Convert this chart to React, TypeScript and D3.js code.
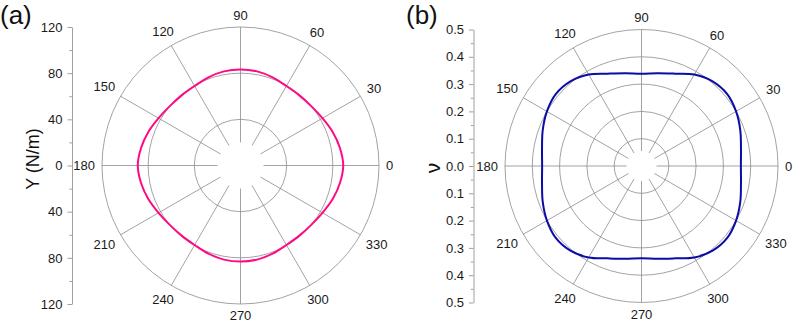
import React, { useEffect, useRef } from "react";
import * as d3 from "d3";

// direction angles (deg) and the two measured quantities
const dirAngles = [
  0, 10, 20, 30, 40, 50, 60, 70, 80, 90, 100, 110, 120, 130, 140, 150, 160, 170,
  180, 190, 200, 210, 220, 230, 240, 250, 260, 270, 280, 290, 300, 310, 320, 330, 340, 350,
];
const youngValues = [
  89, 87.5, 85, 82, 80, 79.3, 79.5, 81.3, 82.8, 83.2, 82.8, 81.3, 79.5, 79.3, 80, 82, 85, 87.5,
  89, 87.5, 85, 82, 80, 79.3, 79.5, 81.3, 82.8, 83.2, 82.8, 81.3, 79.5, 79.3, 80, 82, 85, 87.5,
];
const poissonValues = [
  0.364, 0.37, 0.385, 0.4, 0.41, 0.405, 0.387, 0.36, 0.345, 0.338, 0.345, 0.36, 0.387, 0.405, 0.41, 0.4, 0.385, 0.37,
  0.364, 0.37, 0.385, 0.4, 0.41, 0.405, 0.387, 0.36, 0.345, 0.338, 0.345, 0.36, 0.387, 0.405, 0.41, 0.4, 0.385, 0.37,
];

const spokeAngles = [0, 30, 60, 90, 120, 150, 180, 210, 240, 270, 300, 330];
const youngRings = [40, 80, 120];
const poissonRings = [0.1, 0.2, 0.3, 0.4, 0.5];
const youngAxisTicks = [-120, -80, -40, 0, 40, 80, 120];
const youngMinorTicks = [-100, -60, -20, 20, 60, 100];
const poissonAxisTicks = [-0.5, -0.4, -0.3, -0.2, -0.1, 0, 0.1, 0.2, 0.3, 0.4, 0.5];
const poissonMinorTicks = [-0.45, -0.35, -0.25, -0.15, -0.05, 0.05, 0.15, 0.25, 0.35, 0.45];

const FONT = "'Liberation Sans', Arial, sans-serif";

type Panel = {
  tag: string;
  title: string;
  cx: number;
  cy: number;
  R: number;
  max: number;
  inner: number;
  axisX: number;
  rings: number[];
  ticks: number[];
  minor: number[];
  fmt: (v: number) => string;
  values: number[];
  color: string;
  tagX: number;
  titleX: number;
  titleY: number;
  titleSize: number;
};

const panels: Panel[] = [
  {
    tag: "(a)", title: "Y (N/m)", cx: 240.5, cy: 165.5, R: 138.5, max: 120, inner: 20, axisX: 72,
    rings: youngRings, ticks: youngAxisTicks, minor: youngMinorTicks,
    fmt: (v) => d3.format("d")(Math.abs(v)), values: youngValues, color: "#ff0a84",
    tagX: 0, titleX: 38.5, titleY: 159, titleSize: 18,
  },
  {
    tag: "(b)", title: "ν", cx: 641.5, cy: 166, R: 136.5, max: 0.5, inner: 0.055, axisX: 473.5,
    rings: poissonRings, ticks: poissonAxisTicks, minor: poissonMinorTicks,
    fmt: (v) => d3.format(".1f")(Math.abs(v)), values: poissonValues, color: "#0b0ba5",
    tagX: 406, titleX: 440, titleY: 168, titleSize: 21,
  },
];

export default function App() {
  const ref = useRef<SVGSVGElement>(null);

  useEffect(() => {
    const svg = d3.select(ref.current);
    svg.selectAll("*").remove();

    panels.forEach((p) => {
      const r = d3.scaleLinear().domain([0, p.max]).range([0, p.R]);
      const y = d3.scaleLinear().domain([-p.max, p.max]).range([p.cy + p.R, p.cy - p.R]);
      const g = svg.append("g");

      // panel tag
      g.append("text")
        .attr("x", p.tagX).attr("y", 24)
        .attr("font-family", FONT).attr("font-size", 26).attr("fill", "#111")
        .text(p.tag);

      // left linear axis
      const minorAxis = g.append("g").attr("transform", `translate(${p.axisX},0)`)
        .call(d3.axisLeft(y).tickValues(p.minor).tickSize(2.7).tickSizeOuter(0).tickFormat(() => ""));
      minorAxis.select(".domain").remove();
      minorAxis.selectAll("line").attr("stroke", "#888").attr("stroke-width", 0.8);

      const axis = g.append("g").attr("transform", `translate(${p.axisX},0)`)
        .call(d3.axisLeft(y).tickValues(p.ticks).tickSize(4.5).tickSizeOuter(0).tickPadding(5).tickFormat((v) => p.fmt(+v)));
      axis.select(".domain").attr("stroke", "#888").attr("stroke-width", 0.8);
      axis.selectAll("line").attr("stroke", "#888").attr("stroke-width", 0.8);
      axis.selectAll("text").attr("font-family", FONT).attr("font-size", 13).attr("fill", "#1a1a1a");

      g.append("text")
        .attr("transform", `translate(${p.titleX},${p.titleY}) rotate(-90)`)
        .attr("text-anchor", "middle")
        .attr("font-family", FONT).attr("font-size", p.titleSize).attr("fill", "#111")
        .text(p.title);

      const polar = g.append("g").attr("transform", `translate(${p.cx},${p.cy})`);

      polar.selectAll("circle.ring").data(p.rings).join("circle")
        .attr("class", "ring")
        .attr("r", (d) => r(d))
        .attr("fill", "none").attr("stroke", "#8c8c8c").attr("stroke-width", 0.8);

      polar.selectAll("line.spoke").data(spokeAngles).join("line")
        .attr("class", "spoke")
        .attr("x1", (a) => r(p.inner) * Math.cos((a * Math.PI) / 180))
        .attr("y1", (a) => -r(p.inner) * Math.sin((a * Math.PI) / 180))
        .attr("x2", (a) => p.R * Math.cos((a * Math.PI) / 180))
        .attr("y2", (a) => -p.R * Math.sin((a * Math.PI) / 180))
        .attr("stroke", "#8c8c8c").attr("stroke-width", 0.8);

      // angle labels: keep a constant gap between the ring and the label box
      const labelDist = (a: number) => {
        const rad = (a * Math.PI) / 180;
        const w = String(a).length * 7.2;
        return p.R + 7 + Math.abs(Math.cos(rad)) * w / 2 + Math.abs(Math.sin(rad)) * 4.75;
      };
      polar.selectAll("text.ang").data(spokeAngles).join("text")
        .attr("class", "ang")
        .attr("x", (a) => labelDist(a) * Math.cos((a * Math.PI) / 180))
        .attr("y", (a) => -labelDist(a) * Math.sin((a * Math.PI) / 180))
        .attr("text-anchor", "middle").attr("dominant-baseline", "central")
        .attr("font-family", FONT).attr("font-size", 13).attr("fill", "#1a1a1a")
        .text((a) => String(a));

      const line = d3.lineRadial<number>()
        .angle((_, i) => Math.PI / 2 - (dirAngles[i] * Math.PI) / 180)
        .radius((v) => r(v))
        .curve(d3.curveCatmullRomClosed.alpha(0.5));

      polar.append("path")
        .attr("d", line(p.values))
        .attr("fill", "none").attr("stroke", p.color).attr("stroke-width", 2);
    });
  }, []);

  return (
    <svg
      ref={ref}
      width={797}
      height={330}
      style={{ position: "absolute", left: 0, top: 0, background: "#fff" }}
    />
  );
}
